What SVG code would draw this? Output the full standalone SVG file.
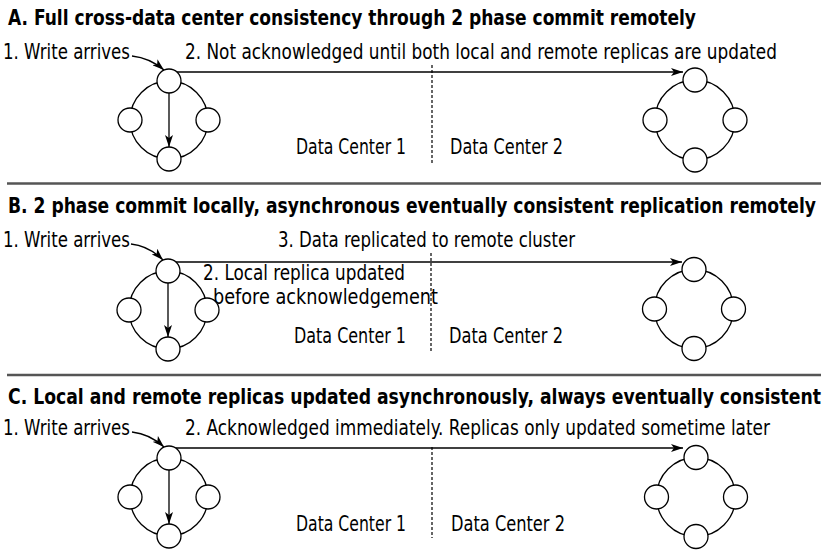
<svg xmlns="http://www.w3.org/2000/svg" width="825" height="560" viewBox="0 0 825 560">
<style>
.t{font-family:"DejaVu Sans Condensed","Liberation Sans",sans-serif;font-size:21px;fill:#000}
.h{font-family:"DejaVu Sans Condensed","Liberation Sans",sans-serif;font-size:21px;font-weight:bold;fill:#000}
.ring{fill:none;stroke:#000;stroke-width:1.3}
.n{fill:#fff;stroke:#000;stroke-width:1.3}
.c{fill:none;stroke:#000;stroke-width:1.3}
.dash{fill:none;stroke:#000;stroke-width:1.2;stroke-dasharray:3 2}
.sep{stroke:#555;stroke-width:2.5}
</style>
<defs>
<marker id="ah" viewBox="0 0 12 8" refX="12" refY="4" markerWidth="12" markerHeight="8" markerUnits="userSpaceOnUse" orient="auto">
<path d="M0,0 L12,4 L0,8 L3,4 z" fill="#000"/>
</marker>
</defs>

<!-- separators -->
<line class="sep" x1="7" y1="183.5" x2="821" y2="183.5"/>
<line class="sep" x1="7" y1="375" x2="821" y2="375"/>

<!-- Section A -->
<text class="h" transform="translate(8,25) scale(0.75,1)" textLength="917.3" lengthAdjust="spacingAndGlyphs">A. Full cross-data center consistency through 2 phase commit remotely</text>
<text class="t" transform="translate(3,59) scale(0.8,1)" textLength="158.75" lengthAdjust="spacingAndGlyphs">1. Write arrives</text>
<text class="t" transform="translate(185,59) scale(0.8,1)" textLength="740" lengthAdjust="spacingAndGlyphs">2. Not acknowledged until both local and remote replicas are updated</text>
<text class="t" transform="translate(296,154) scale(0.8,1)" textLength="137.5" lengthAdjust="spacingAndGlyphs">Data Center 1</text>
<text class="t" transform="translate(450,154) scale(0.8,1)" textLength="141.25" lengthAdjust="spacingAndGlyphs">Data Center 2</text>
<g id="A-local">
<circle class="ring" cx="169" cy="120" r="39"/>
<circle id="A-l-top" class="n" cx="169" cy="81" r="12"/>
<circle id="A-l-left" class="n" cx="130" cy="120" r="12"/>
<circle id="A-l-right" class="n" cx="208" cy="120" r="12"/>
<circle id="A-l-bottom" class="n" cx="169" cy="159" r="12"/>
</g>
<g id="A-remote">
<circle class="ring" cx="695" cy="120" r="40"/>
<circle id="A-r-top" class="n" cx="695" cy="80" r="12"/>
<circle id="A-r-left" class="n" cx="655" cy="120" r="12"/>
<circle id="A-r-right" class="n" cx="735" cy="120" r="12"/>
<circle id="A-r-bottom" class="n" cx="695" cy="160" r="12"/>
</g>

<!-- Section B -->
<text class="h" transform="translate(8,213) scale(0.75,1)" textLength="1077.3" lengthAdjust="spacingAndGlyphs">B. 2 phase commit locally, asynchronous eventually consistent replication remotely</text>
<text class="t" transform="translate(3,247) scale(0.8,1)" textLength="158.75" lengthAdjust="spacingAndGlyphs">1. Write arrives</text>
<text class="t" transform="translate(278,247) scale(0.8,1)" textLength="371.25" lengthAdjust="spacingAndGlyphs">3. Data replicated to remote cluster</text>
<text class="t" transform="translate(203,280) scale(0.8,1)" textLength="252.5" lengthAdjust="spacingAndGlyphs">2. Local replica updated</text>
<text class="t" transform="translate(213,304) scale(0.8,1)" textLength="281.25" lengthAdjust="spacingAndGlyphs">before acknowledgement</text>
<text class="t" transform="translate(294,343) scale(0.8,1)" textLength="140" lengthAdjust="spacingAndGlyphs">Data Center 1</text>
<text class="t" transform="translate(449,343) scale(0.8,1)" textLength="142.5" lengthAdjust="spacingAndGlyphs">Data Center 2</text>
<g id="B-local">
<circle class="ring" cx="168" cy="310" r="39"/>
<circle id="B-l-top" class="n" cx="168" cy="271" r="12"/>
<circle id="B-l-left" class="n" cx="129" cy="310" r="12"/>
<circle id="B-l-right" class="n" cx="207" cy="310" r="12"/>
<circle id="B-l-bottom" class="n" cx="168" cy="349" r="12"/>
</g>
<g id="B-remote">
<circle class="ring" cx="694" cy="309" r="39.5"/>
<circle id="B-r-top" class="n" cx="694" cy="269.5" r="12"/>
<circle id="B-r-left" class="n" cx="654.5" cy="309" r="12"/>
<circle id="B-r-right" class="n" cx="733.5" cy="309" r="12"/>
<circle id="B-r-bottom" class="n" cx="694" cy="348.5" r="12"/>
</g>

<!-- Section C -->
<text class="h" transform="translate(8,404) scale(0.75,1)" textLength="1084" lengthAdjust="spacingAndGlyphs">C. Local and remote replicas updated asynchronously, always eventually consistent</text>
<text class="t" transform="translate(3,435) scale(0.8,1)" textLength="158.75" lengthAdjust="spacingAndGlyphs">1. Write arrives</text>
<text class="t" transform="translate(185,435) scale(0.8,1)" textLength="731.25" lengthAdjust="spacingAndGlyphs">2. Acknowledged immediately. Replicas only updated sometime later</text>
<text class="t" transform="translate(296,531) scale(0.8,1)" textLength="137.5" lengthAdjust="spacingAndGlyphs">Data Center 1</text>
<text class="t" transform="translate(451,531) scale(0.8,1)" textLength="142.5" lengthAdjust="spacingAndGlyphs">Data Center 2</text>
<g id="C-local">
<circle class="ring" cx="169" cy="497" r="39"/>
<circle id="C-l-top" class="n" cx="169" cy="458" r="12"/>
<circle id="C-l-left" class="n" cx="130" cy="497" r="12"/>
<circle id="C-l-right" class="n" cx="208" cy="497" r="12"/>
<circle id="C-l-bottom" class="n" cx="169" cy="536" r="12"/>
</g>
<g id="C-remote">
<circle class="ring" cx="696" cy="497" r="39.5"/>
<circle id="C-r-top" class="n" cx="696" cy="457.5" r="12"/>
<circle id="C-r-left" class="n" cx="656.5" cy="497" r="12"/>
<circle id="C-r-right" class="n" cx="735.5" cy="497" r="12"/>
<circle id="C-r-bottom" class="n" cx="696" cy="536.5" r="12"/>
</g>

<!-- connectors -->
<g id="connectors">
<path class="c" d="M132,56 Q150,58 164,70" marker-end="url(#ah)"/>
<line class="c" x1="169" y1="93" x2="169" y2="147" marker-end="url(#ah)"/>
<line class="c" x1="177" y1="72" x2="683" y2="72" marker-end="url(#ah)"/>
<line class="dash" x1="432" y1="65" x2="432" y2="163"/>

<path class="c" d="M131,244 Q149,246 163,260" marker-end="url(#ah)"/>
<line class="c" x1="168" y1="283" x2="168" y2="337" marker-end="url(#ah)"/>
<line class="c" x1="176" y1="262" x2="682" y2="262" marker-end="url(#ah)"/>
<line class="dash" x1="431" y1="253" x2="431" y2="352"/>

<path class="c" d="M132,432 Q150,434 164,447" marker-end="url(#ah)"/>
<line class="c" x1="169" y1="470" x2="169" y2="524" marker-end="url(#ah)"/>
<line class="c" x1="176" y1="448" x2="683" y2="448" marker-end="url(#ah)"/>
<line class="dash" x1="432" y1="447" x2="432" y2="538"/>
</g>
</svg>
